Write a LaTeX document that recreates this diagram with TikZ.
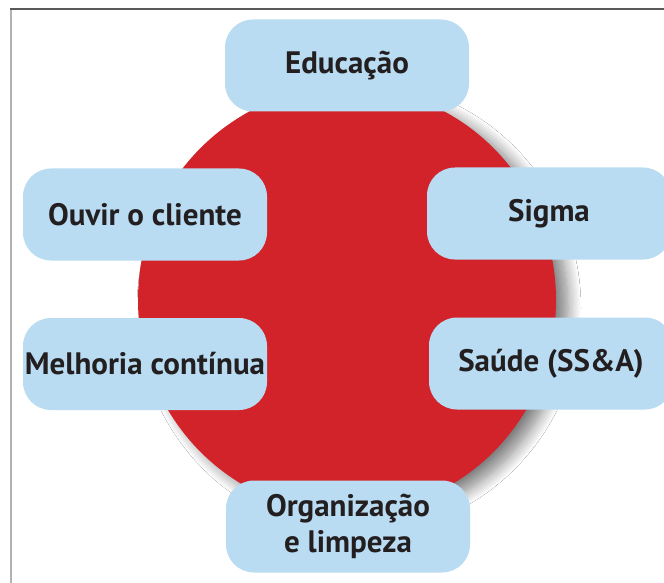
\documentclass[tikz,border=0pt]{standalone}
\usepackage{fontspec}
\setmainfont{PT Sans}
\usetikzlibrary{shapes.geometric,shadows.blur}
\definecolor{corered}{HTML}{D2232A}
\definecolor{boxblue}{HTML}{B9DCF2}
\definecolor{txt}{HTML}{231F20}
\tikzset{
  topic/.style={fill=boxblue, rounded corners=28pt, draw=none,
    minimum width=244pt, minimum height=92pt, inner sep=0pt,
    font=\fontsize{31}{36}\selectfont\bfseries, text=txt, align=center},
}
\begin{document}
\begin{tikzpicture}[x=1pt,y=-1pt]
\useasboundingbox (0,0) rectangle (664,583);
\clip (0,0) rectangle (664,583);
\fill[white] (0,0) rectangle (664,583);
\node[ellipse, fill=corered, minimum width=418pt, minimum height=426pt, inner sep=0pt,
  blur shadow={shadow xshift=12pt, shadow yshift=-8pt, shadow blur radius=13pt, shadow opacity=50, shadow blur steps=12}] (core) at (347,300) {};
\draw[gray!60, line width=2pt] (11,9) -- (11,583);
\draw[black!65, line width=1.2pt] (10,9) -- (664,9);
\node[topic] (edu) at (347,65.5) {Educação};
\node[topic] (ouvir) at (145,214.5) {Ouvir o cliente};
\node[topic] (melh) at (145,364) {Melhoria contínua};
\node[topic] (sigma) at (549,213.5) {Sigma};
\node[topic] (saude) at (551,363.5) {Saúde (SS\&A)};
\node[topic] (org) at (348,526.5) {Organização\\e limpeza};
\end{tikzpicture}
\end{document}
